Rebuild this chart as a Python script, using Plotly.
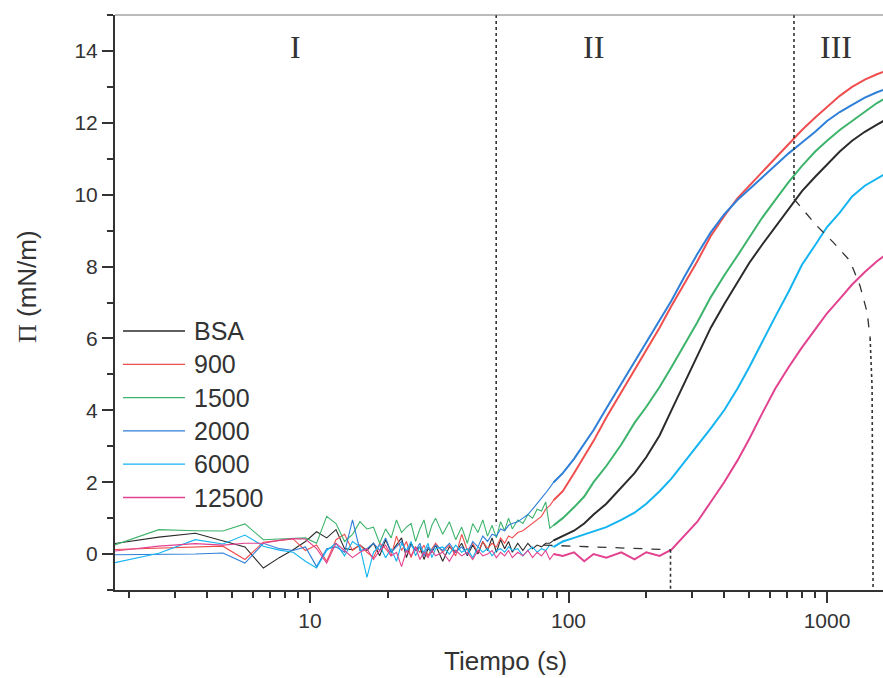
import math
import plotly.graph_objects as go

# ---------------- data ----------------
T_EARLY = [1.6, 2.6, 3.6, 4.6, 5.6, 6.6, 7.6, 8.6, 9.6, 10.6,
           11.6, 12.6, 13.6, 14.6, 15.6, 16.6, 17.6, 18.6, 19.6, 20.6,
           21.6, 22.6, 23.6, 24.6, 25.6, 26.6, 27.6, 28.6, 29.6, 30.6,
           32.6, 34.6, 36.6, 38.6, 40.6, 42.6, 44.6, 46.6, 48.6, 50.6,
           52.6, 54.6, 56.6, 58.6, 60.6,
           63.6, 66.6, 69.6, 72.6, 75.6, 78.6, 81.6, 84.6, 87.6]
T_LATE = [95, 105, 115, 125, 140, 160, 180, 200, 225, 250, 280, 315, 355, 400,
          450, 500, 560, 630, 710, 800, 900, 1000, 1120, 1250, 1400, 1560, 1700]

BSA_EARLY = [0.25, 0.47, 0.58, 0.36, 0.20, -0.39, -0.10, 0.12, 0.35, 0.62,
             0.45, 0.68, 0.15, 0.12, 0.25, 0.10, 0.30, -0.05, 0.40, 0.05,
             0.25, 0.45, -0.10, 0.30, 0.10, 0.20, -0.15, 0.15, 0.05, 0.25,
             -0.20, 0.20, 0.05, 0.30, -0.05, 0.25, 0.00, 0.35, 0.10, 0.45,
             0.05, 0.40, 0.15, 0.35, 0.05,
             0.30, 0.10, 0.30, 0.15, 0.25, 0.20, 0.30, 0.30, 0.38]
BSA_LATE = [0.5, 0.65, 0.85, 1.1, 1.4, 1.85, 2.25, 2.7, 3.3, 4.0, 4.75, 5.55, 6.3, 6.95,
            7.55, 8.1, 8.6, 9.1, 9.6, 10.1, 10.5, 10.85, 11.2, 11.5, 11.75, 11.95, 12.1]

S900_EARLY = [0.12, 0.17, 0.20, 0.22, -0.15, 0.33, 0.38, 0.42, 0.10, 0.25,
              -0.20, 0.40, 0.55, 0.10, 0.25, 0.05, -0.10, 0.30, 0.15, -0.05,
              0.50, 0.10, 0.35, -0.10, 0.20, 0.05, 0.25, -0.05, 0.15, 0.30,
              0.05, 0.25, -0.05, 0.55, 0.10, 0.30, 0.05, 0.35, 0.15, 0.30,
              0.20, 0.45, 0.30, 0.50, 0.45,
              0.60, 0.65, 0.75, 0.85, 0.95, 1.05, 1.25, 1.35, 1.50]
S900_LATE = [1.75, 2.25, 2.7, 3.15, 3.8, 4.5, 5.15, 5.7, 6.3, 6.9, 7.5, 8.15, 8.85, 9.4,
             9.9, 10.25, 10.6, 11.0, 11.4, 11.8, 12.15, 12.45, 12.75, 13.0, 13.2, 13.35, 13.45]

S1500_EARLY = [0.15, 0.68, 0.65, 0.64, 0.84, 0.40, 0.42, 0.44, 0.45, 0.30,
               1.05, 0.85, 0.35, 0.55, 0.90, 0.70, 0.75, 0.30, 0.70, 0.45,
               0.95, 0.60, 0.75, 0.85, 0.35, 0.70, 0.95, 0.45, 0.80, 1.00,
               0.55, 0.90, 0.40, 0.75, 0.30, 0.85, 0.60, 0.95, 0.50, 0.80,
               0.45, 0.90, 0.65, 1.00, 0.70,
               0.95, 0.85, 1.10, 1.00, 1.25, 1.20, 1.45, 0.72, 0.80]
S1500_LATE = [1.0, 1.3, 1.6, 2.0, 2.45, 3.05, 3.65, 4.1, 4.65, 5.2, 5.8, 6.45, 7.15, 7.75,
              8.3, 8.8, 9.35, 9.85, 10.35, 10.8, 11.2, 11.5, 11.8, 12.05, 12.3, 12.55, 12.7]

S2000_EARLY = [-0.02, -0.02, 0.00, 0.03, -0.25, 0.30, 0.15, 0.10, 0.20, -0.35,
               0.15, 0.20, 0.05, 0.95, 0.10, 0.15, 0.30, 0.10, 0.45, 0.05,
               0.20, 0.35, 0.05, 0.25, 0.10, 0.30, -0.05, 0.20, 0.10, 0.25,
               0.10, 0.30, 0.05, 0.20, 0.00, 0.35, 0.20, 0.50, 0.35, 0.55,
               0.50, 0.70, 0.65, 0.80, 0.85,
               0.90, 1.00, 1.10, 1.25, 1.40, 1.55, 1.70, 1.85, 2.00]
S2000_LATE = [2.25, 2.65, 3.05, 3.45, 4.05, 4.75, 5.35, 5.9, 6.5, 7.05, 7.7, 8.35, 8.95, 9.45,
              9.85, 10.15, 10.45, 10.8, 11.15, 11.45, 11.75, 12.05, 12.3, 12.5, 12.7, 12.85, 12.95]

S6000_EARLY = [-0.30, 0.02, 0.40, 0.28, 0.53, 0.22, 0.11, 0.05, -0.20, -0.39,
               0.10, 0.30, -0.05, 0.35, 0.20, -0.65, 0.05, 0.25, -0.10, 0.15,
               -0.20, 0.30, 0.10, 0.35, -0.05, 0.20, 0.05, 0.30, -0.10, 0.15,
               0.20, 0.00, 0.25, 0.05, 0.15, -0.10, 0.20, 0.05, 0.15, -0.05,
               0.10, 0.15, 0.05, 0.20, 0.10,
               0.15, -0.05, 0.10, 0.20, 0.05, 0.15, 0.10, 0.25, 0.20]
S6000_LATE = [0.35, 0.45, 0.55, 0.62, 0.75, 0.95, 1.15, 1.4, 1.75, 2.1, 2.55, 3.0, 3.5, 4.0,
              4.6, 5.2, 5.9, 6.6, 7.3, 8.05, 8.6, 9.1, 9.5, 9.95, 10.25, 10.45, 10.6]

S12500_EARLY = [0.05, 0.22, 0.29, 0.25, 0.30, 0.30, 0.38, 0.43, 0.42, 0.15,
                -0.25, 0.30, 0.10, -0.10, 0.05, 0.15, -0.15, 0.10, 0.25, -0.05,
                0.05, -0.35, 0.10, -0.05, 0.20, -0.15, 0.05, -0.10, 0.10, -0.05,
                0.05, -0.20, 0.10, -0.05, 0.05, -0.15, 0.10, -0.05, 0.00, 0.10,
                -0.10, 0.05, -0.05, 0.10, -0.10,
                0.05, -0.05, 0.10, -0.10, 0.05, -0.05, 0.10, -0.15, 0.00]
S12500_LATE = [-0.05, 0.05, -0.2, 0.0, -0.1, 0.05, -0.15, 0.05, -0.05, 0.12, 0.5, 0.9, 1.45, 2.0,
               2.6, 3.2, 3.9, 4.6, 5.2, 5.75, 6.25, 6.7, 7.1, 7.5, 7.85, 8.15, 8.35]

SERIES_NAMES = ["BSA", "900", "1500", "2000", "6000", "12500"]
SERIES_EARLY = [BSA_EARLY, S900_EARLY, S1500_EARLY, S2000_EARLY, S6000_EARLY, S12500_EARLY]
SERIES_LATE = [BSA_LATE, S900_LATE, S1500_LATE, S2000_LATE, S6000_LATE, S12500_LATE]
SERIES_COLORS = ["#2b2b2b", "#f04e4e", "#3db36b", "#2f7fd8", "#14b4f0", "#e2428f"]

# guide lines (regions / lag time)
B1_T, B1_P = [52.5, 52.5], [15, 0.8]
B2_TOP_T, B2_TOP_P = [745, 745], [15, 9.88]
B2_CURVE_T = [745, 914, 1055, 1227, 1342, 1429, 1468]
B2_CURVE_P = [9.88, 9.13, 8.68, 8.16, 7.46, 6.73, 6.01]
B2_LOW_T, B2_LOW_P = [1468, 1494, 1507], [6.01, 4.62, -1]
LAG_H_T, LAG_H_P = [80, 248], [0.25, 0.12]
LAG_V_T, LAG_V_P = [248, 248], [0.12, -1]

REGION_LABELS = ["I", "II", "III"]
REGION_T = [8.8, 125, 1083]
REGION_P = 14.1

# ---------------- layout geometry ----------------
W, H = 883, 678
L, R, T, B = 115, 0, 15, 88
PW, PH = W - L - R, H - T - B
X_LEFT = math.log10(1.76)
DECADE_PX = 258.5
X_RANGE = [X_LEFT, X_LEFT + PW / DECADE_PX]
Y_RANGE = [-1, 15]

TXT = "#333333"
FONT = "Arial, Liberation Sans, sans-serif"
SERIF = "Times New Roman, Liberation Serif, serif"

fig = go.Figure()

for name, e, l, c in zip(SERIES_NAMES, SERIES_EARLY, SERIES_LATE, SERIES_COLORS):
    # sparse, noisy baseline part (thin) and dense growth part (thicker, as in the scan)
    fig.add_trace(go.Scatter(x=T_EARLY + T_LATE[:1], y=e + l[:1], mode="lines", name=name,
                             line=dict(color=c, width=1.1), showlegend=False))
    fig.add_trace(go.Scatter(x=T_EARLY[-1:] + T_LATE, y=e[-1:] + l, mode="lines", name=name,
                             line=dict(color=c, width=2.0), showlegend=False))

def guide(tx, py, dash, color="#333333", width=1.6):
    fig.add_trace(go.Scatter(x=tx, y=py, mode="lines", showlegend=False, hoverinfo="skip",
                             line=dict(color=color, width=width, dash=dash)))

guide(B1_T, B1_P, "dot")
guide(B2_TOP_T, B2_TOP_P, "dot")
guide(B2_CURVE_T, B2_CURVE_P, "dash", width=1.3)
guide(B2_LOW_T, B2_LOW_P, "dot")
guide(LAG_H_T, LAG_H_P, "dash", width=1.3)
guide(LAG_V_T, LAG_V_P, "dot")

annotations = []
for lab, t in zip(REGION_LABELS, REGION_T):
    annotations.append(dict(x=math.log10(t), y=REGION_P, xref="x", yref="y", text=lab,
                            xanchor="center", yanchor="middle",
                            showarrow=False, font=dict(family=SERIF, size=32, color=TXT)))

# manual legend
LEG_Y0, LEG_DY = 331, 33.3
shapes = []
for i, (name, c) in enumerate(zip(SERIES_NAMES, SERIES_COLORS)):
    ypx = LEG_Y0 + i * LEG_DY
    yp = (T + PH - ypx) / PH
    shapes.append(dict(type="line", xref="paper", yref="paper",
                       x0=(123 - L) / PW, x1=(185 - L) / PW, y0=yp, y1=yp,
                       line=dict(color=c, width=1.3)))
    annotations.append(dict(x=(192 - L) / PW, y=yp, xref="paper", yref="paper", text=name,
                            xanchor="left", yanchor="middle", showarrow=False,
                            font=dict(family=FONT, size=25, color=TXT)))

# top frame line
shapes.append(dict(type="line", xref="paper", yref="paper", x0=0, x1=1, y0=1, y1=1,
                   line=dict(color="#777777", width=1)))

# axis titles
annotations.append(dict(x=(505 - L) / PW, y=(T + PH - 661) / PH, xref="paper", yref="paper",
                        xanchor="center", yanchor="middle",
                        text="Tiempo (s)", showarrow=False,
                        font=dict(family=FONT, size=26, color=TXT)))
annotations.append(dict(x=(27 - L) / PW, y=(T + PH - 287) / PH, xref="paper", yref="paper",
                        xanchor="center", yanchor="middle",
                        text="<span style='font-family:Liberation Serif, Times New Roman, serif'>\u03a0</span> (mN/m)",
                        textangle=-90, showarrow=False,
                        font=dict(family=FONT, size=26, color=TXT)))

fig.update_layout(
    width=W, height=H,
    margin=dict(l=L, r=R, t=T, b=B, pad=0),
    paper_bgcolor="white", plot_bgcolor="white",
    showlegend=False,
    shapes=shapes, annotations=annotations,
    xaxis=dict(type="log", range=X_RANGE, showgrid=False, zeroline=False,
               showline=True, linecolor="#333333", linewidth=2,
               tickmode="array", tickvals=[10, 100, 1000], ticktext=["10", "100", "1000"],
               ticks="outside", ticklen=11, tickwidth=2, tickcolor="#333333",
               tickfont=dict(family=FONT, size=21, color=TXT),
               minor=dict(ticks="outside", ticklen=6, tickwidth=2, tickcolor="#333333",
                          dtick="D1", showgrid=False)),
    yaxis=dict(range=Y_RANGE, showgrid=False, zeroline=False,
               showline=True, linecolor="#333333", linewidth=2,
               tick0=0, dtick=2, ticks="outside", ticklen=11, tickwidth=2, tickcolor="#333333",
               tickfont=dict(family=FONT, size=21, color=TXT),
               minor=dict(ticks="outside", ticklen=6, tickwidth=2, tickcolor="#333333",
                          dtick=1, showgrid=False)),
)

fig.write_html("out.html")
